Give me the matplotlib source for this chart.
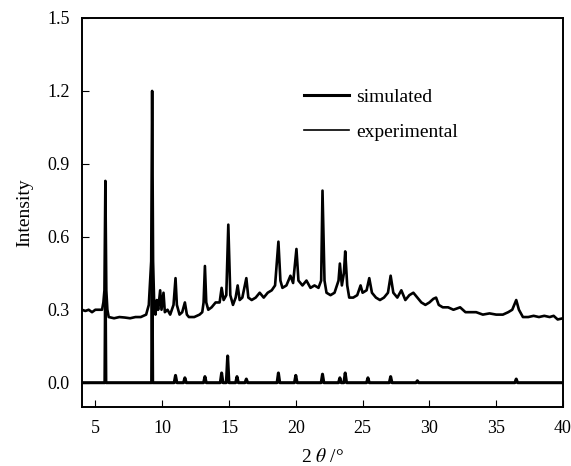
import matplotlib.pyplot as plt

plt.rcParams['font.family'] = ['Liberation Serif', 'DejaVu Serif']
plt.rcParams['mathtext.fontset'] = 'stix'

# experimental pattern
exp_x = [4.0, 4.25, 4.5, 4.75, 5.0, 5.25, 5.5, 5.6, 5.68, 5.75, 5.82, 5.9,
         6.0, 6.4, 6.8, 7.2, 7.6, 8.0, 8.4, 8.8, 9.0, 9.1, 9.18, 9.25, 9.32,
         9.4, 9.5, 9.6, 9.7, 9.85, 9.95, 10.1, 10.2, 10.4, 10.6, 10.85, 11.0,
         11.1, 11.3, 11.5, 11.7, 11.85, 12.0, 12.4, 12.8, 13.0, 13.1, 13.2,
         13.3, 13.45, 13.7, 14.0, 14.3, 14.45, 14.6, 14.8, 14.95, 15.1, 15.3,
         15.5, 15.65, 15.8, 16.0, 16.3, 16.45, 16.7, 17.0, 17.3, 17.6, 17.9,
         18.2, 18.45, 18.7, 18.85, 19.0, 19.3, 19.6, 19.8, 20.05, 20.2, 20.5,
         20.8, 21.1, 21.4, 21.7, 21.9, 22.0, 22.15, 22.3, 22.6, 22.9, 23.2,
         23.3, 23.45, 23.6, 23.7, 23.85, 24.0, 24.3, 24.6, 24.85, 25.0, 25.3,
         25.5, 25.7, 26.0, 26.3, 26.6, 26.9, 27.1, 27.3, 27.6, 27.9, 28.2,
         28.5, 28.8, 29.1, 29.4, 29.7, 30.0, 30.3, 30.5, 30.7, 31.0, 31.4,
         31.8, 32.3, 32.7, 33.1, 33.5, 34.0, 34.5, 35.0, 35.5, 35.9, 36.2,
         36.5, 36.7, 37.0, 37.4, 37.8, 38.2, 38.6, 39.0, 39.3, 39.6, 40.0]
exp_y = [0.30, 0.295, 0.30, 0.29, 0.30, 0.30, 0.30, 0.33, 0.38, 0.83, 0.38, 0.30,
         0.27, 0.265, 0.27, 0.268, 0.265, 0.27, 0.27, 0.28, 0.32, 0.42, 0.50, 1.20, 0.50,
         0.33, 0.28, 0.34, 0.30, 0.38, 0.30, 0.37, 0.29, 0.30, 0.28, 0.32, 0.43,
         0.32, 0.28, 0.29, 0.33, 0.28, 0.27, 0.27, 0.28, 0.29, 0.33, 0.48,
         0.33, 0.30, 0.31, 0.33, 0.33, 0.39, 0.34, 0.36, 0.65, 0.36, 0.32,
         0.35, 0.40, 0.34, 0.35, 0.43, 0.35, 0.34, 0.35, 0.37, 0.35, 0.37,
         0.38, 0.40, 0.58, 0.42, 0.39, 0.40, 0.44, 0.41, 0.55, 0.42, 0.40,
         0.42, 0.39, 0.40, 0.39, 0.42, 0.79, 0.42, 0.37, 0.36, 0.37, 0.42,
         0.49, 0.40, 0.45, 0.54, 0.40, 0.35, 0.35, 0.36, 0.40, 0.37, 0.38,
         0.43, 0.37, 0.35, 0.34, 0.35, 0.37, 0.44, 0.37, 0.35, 0.38, 0.34,
         0.36, 0.37, 0.35, 0.33, 0.32, 0.33, 0.345, 0.35, 0.32, 0.31, 0.31,
         0.30, 0.31, 0.29, 0.29, 0.29, 0.28, 0.285, 0.28, 0.28, 0.29, 0.30,
         0.34, 0.30, 0.27, 0.27, 0.275, 0.27, 0.275, 0.27, 0.275, 0.26, 0.265]

# simulated peak positions and heights
sim_pos = [5.75, 9.25, 11.0, 11.7, 13.2, 14.45, 14.9, 15.6, 16.3, 18.7, 20.0,
           22.0, 23.3, 23.7, 25.4, 27.1, 29.1, 36.5]
sim_h = [0.37, 0.50, 0.03, 0.02, 0.025, 0.04, 0.11, 0.025, 0.015, 0.04, 0.03,
         0.035, 0.02, 0.04, 0.02, 0.025, 0.008, 0.015]

# build stick profile for the simulated pattern
sx, sy = [4.0], [0.0]
for p, h in zip(sim_pos, sim_h):
    w = 0.04 if h > 0.2 else 0.1
    sx += [p - w, p, p + w]
    sy += [0.0, h, 0.0]
sx.append(40.0)
sy.append(0.0)

fig = plt.figure(figsize=(5.71, 4.66), dpi=100)
ax = fig.add_axes([0.1436, 0.1266, 0.8424, 0.8348])

ax.plot(sx, sy, color='black', lw=2.2, label='simulated')
ax.plot(exp_x, exp_y, color='black', lw=1.9, label='experimental')

ax.set_xlim(4, 40)
ax.set_ylim(-0.1, 1.5)
ax.set_xticks([5, 10, 15, 20, 25, 30, 35, 40])
ax.set_yticks([0.0, 0.3, 0.6, 0.9, 1.2, 1.5])
ax.set_yticklabels(['0.0', '0.3', '0.6', '0.9', '1.2', '1.5'])
ax.tick_params(direction='in', length=5, labelsize=13, pad=9)
for s in ax.spines.values():
    s.set_linewidth(1.4)

ax.set_xlabel('2 $\\mathit{\\theta}$ /°', fontsize=14, labelpad=8)
ax.set_ylabel('Intensity', fontsize=14, labelpad=10)

leg = ax.legend(loc='upper left', bbox_to_anchor=(0.425, 0.865), frameon=False,
                fontsize=14, handlelength=2.3, handletextpad=0.4, labelspacing=0.9)
leg.get_lines()[1].set_linewidth(1.2)

fig.savefig('out.png', dpi=100)
